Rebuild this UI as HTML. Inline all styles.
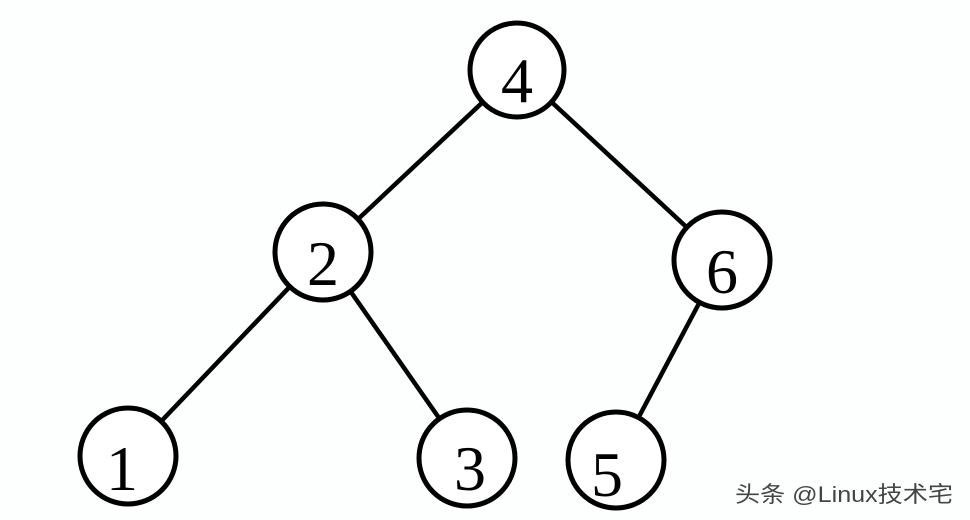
<!DOCTYPE html>
<html><head><meta charset="utf-8"><style>
html,body{margin:0;padding:0;background:#fff;}
svg{display:block;}
</style></head><body>
<svg width="970" height="520" viewBox="0 0 970 520" xmlns="http://www.w3.org/2000/svg">
<rect width="970" height="520" fill="#fdfefe"/>
<g stroke="#000" stroke-width="4.5" fill="none">
<line x1="517" y1="70" x2="323" y2="252"/>
<line x1="517" y1="70" x2="722" y2="260"/>
<line x1="323" y1="252" x2="128" y2="456"/>
<line x1="323" y1="252" x2="467" y2="458"/>
<line x1="722" y1="260" x2="616" y2="460"/>
</g>
<g stroke="#000" stroke-width="5" fill="#fff">
<circle cx="517" cy="70" r="47"/>
<circle cx="323" cy="252" r="48"/>
<circle cx="722" cy="260" r="48"/>
<circle cx="128" cy="456" r="48"/>
<circle cx="467" cy="458" r="48"/>
<circle cx="616" cy="460" r="48"/>
</g>
<g font-family="'Liberation Serif',serif" font-size="64" text-anchor="middle" fill="#000">
<text x="517" y="102">4</text>
<text x="323" y="285">2</text>
<text x="722" y="293">6</text>
<text x="122" y="490">1</text>
<text x="470" y="490">3</text>
<text x="607" y="496">5</text>
</g>
<text x="735" y="502" font-family="'Liberation Sans','Noto Sans CJK SC',sans-serif" font-size="22" fill="#444" textLength="218" lengthAdjust="spacingAndGlyphs">头条 @Linux技术宅</text>
</svg>
</body></html>
